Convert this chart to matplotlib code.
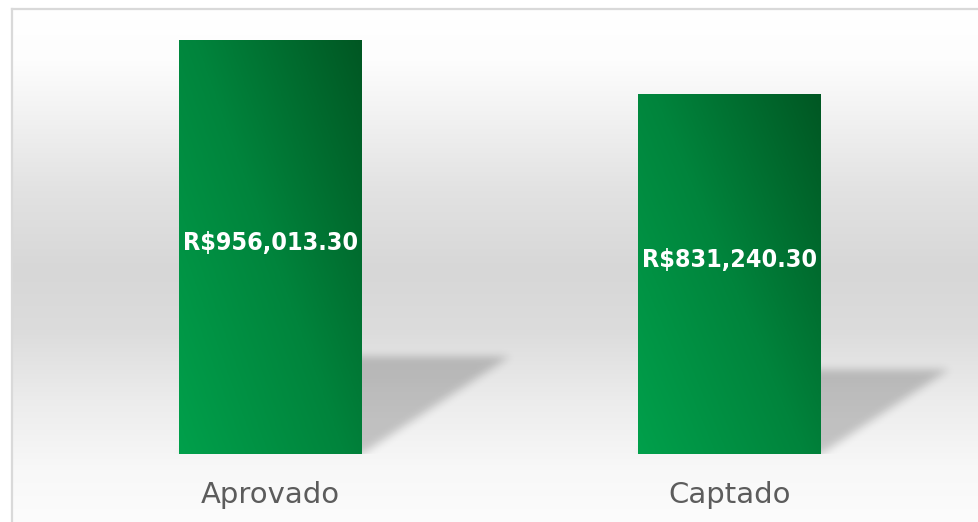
import numpy as np
import matplotlib
matplotlib.use("Agg")
import matplotlib.pyplot as plt
from matplotlib.colors import LinearSegmentedColormap
from matplotlib.lines import Line2D
from matplotlib import font_manager
import matplotlib.transforms as mtransforms

# data
categories = ["Aprovado", "Captado"]
values = [956013.30, 831240.30]

W, H = 979, 522
fig = plt.figure(figsize=(W / 100, H / 100), dpi=100)
fig.patch.set_facecolor("white")

# pick a condensed bold font for the value labels if one is there
cond = font_manager.FontProperties(family="DejaVu Sans", stretch="condensed", weight="bold")
if "Condensed" in font_manager.findfont(cond, fallback_to_default=True):
    val_font = dict(family="DejaVu Sans", fontstretch="condensed", fontsize=18)
else:
    val_font = dict(family="DejaVu Sans", fontsize=16)

# background gradient (top-down pixel stops)
stop_y = [9, 60, 110, 190, 270, 330, 400, 470, 522]
stop_c = [255, 253, 243, 226, 215, 220, 236, 248, 252]
bg = fig.add_axes([12 / W, 0, 1 - 12 / W, 1 - 9 / H])
rows = np.arange(9, 522)
shade = np.interp(rows, stop_y, stop_c) / 255.0
img = np.repeat(shade[:, None], 4, axis=1)
bg.imshow(np.dstack([img, img, img]), aspect="auto", extent=[0, 1, 0, 1])
bg.set_axis_off()

# border
bx, by = 11.5 / W, 1 - 8.5 / H
fig.add_artist(Line2D([bx, bx], [0, by], transform=fig.transFigure, color="#d9d9d9", lw=1.6))
fig.add_artist(Line2D([bx, 1], [by, by], transform=fig.transFigure, color="#d9d9d9", lw=1.6))

# main axes
ymax = 1000000
base_px = 454
px_per_val = 414 / values[0]
top_px = base_px - ymax * px_per_val
ax = fig.add_axes([40.75 / W, (H - base_px) / H, 918.5 / W, (base_px - top_px) / H])
ax.patch.set_alpha(0)
for s in ax.spines.values():
    s.set_visible(False)

bars = ax.bar(categories, values, width=0.398, color="none", zorder=3)
ax.set_xlim(-0.5, 1.5)
ax.set_ylim(0, ymax)
ax.set_xticks([])
ax.set_yticks([])

# shadows (blurred parallelograms)
xpx = 918.5 / 2.0          # pixels per x unit
ypx = px_per_val           # pixels per y unit
ny = 140
nx = 919
sh_top = ymax * 0.30
gx = np.linspace(-0.5, 1.5, nx)
gy = np.linspace(0, sh_top, ny)
GX, GY = np.meshgrid(gx, gy)
mask = np.zeros((ny, nx))
for b in bars:
    x0, x1, h = b.get_x(), b.get_x() + b.get_width(), b.get_height()
    hs = 0.235 * h
    dx = 0.355 * h * ypx / xpx
    s = GY / hs
    inside = (s <= 1) & (GX >= x0 + s * dx) & (GX <= x1 + s * dx)
    mask[inside] = 1.0


def blur(a, sig):
    r = int(3 * sig)
    k = np.exp(-0.5 * (np.arange(-r, r + 1) / sig) ** 2)
    k /= k.sum()
    a = np.apply_along_axis(lambda m: np.convolve(m, k, mode="same"), 0, a)
    a = np.apply_along_axis(lambda m: np.convolve(m, k, mode="same"), 1, a)
    return a


mask = blur(mask, 4.5)
shadow = np.zeros((ny, nx, 4))
shadow[..., 3] = mask * 0.2
ax.imshow(shadow, origin="lower", extent=[-0.5, 1.5, 0, sh_top], aspect="auto", zorder=2,
          interpolation="bilinear")

# gradient bars
green = LinearSegmentedColormap.from_list("g", ["#00a04b", "#00843c", "#005723"])
u = np.linspace(0, 1, 200)
v = np.linspace(0, 1, 400)
U, V = np.meshgrid(u, v)
grad = 0.55 * U + 0.45 * V
for b in bars:
    im = ax.imshow(grad, origin="lower", cmap=green, vmin=0, vmax=1, aspect="auto",
                   extent=[b.get_x(), b.get_x() + b.get_width(), 0, b.get_height()], zorder=3)
    im.set_clip_path(b)

ax.set_xlim(-0.5, 1.5)
ax.set_ylim(0, ymax)

# value labels
label_frac = [0.493, 0.519]
for b, val, f in zip(bars, values, label_frac):
    ax.text(b.get_x() + b.get_width() / 2, b.get_height() * f, f"R${val:,.2f}",
            ha="center", va="baseline", color="white", fontweight="bold", zorder=5,
            **val_font)

# category labels
trans = mtransforms.blended_transform_factory(ax.transData, ax.transAxes)
for i, c in enumerate(categories):
    ax.text(i, -49 / (base_px - top_px), c, transform=trans, ha="center", va="baseline",
            color="#5c5c5c", fontsize=21, family="DejaVu Sans")

fig.savefig("out.png", dpi=100)
